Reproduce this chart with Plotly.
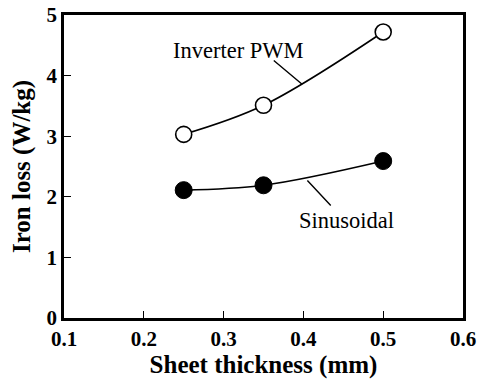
import plotly.graph_objects as go

# Sheet thickness (mm) and measured iron loss (W/kg)
thickness = [0.25, 0.35, 0.5]
loss_pwm = [3.03, 3.51, 4.72]
loss_sine = [2.11, 2.19, 2.59]

x_ticks = [0.1, 0.2, 0.3, 0.4, 0.5, 0.6]
y_ticks = [0, 1, 2, 3, 4, 5]

FONT = "Liberation Serif"

fig = go.Figure()

fig.add_trace(go.Scatter(
    x=thickness, y=loss_pwm, mode="lines+markers",
    line=dict(color="black", width=1.6, shape="spline", smoothing=1.0),
    marker=dict(symbol="circle", size=16, color="white",
                line=dict(color="black", width=1.6)),
    name="Inverter PWM",
))
fig.add_trace(go.Scatter(
    x=thickness, y=loss_sine, mode="lines+markers",
    line=dict(color="black", width=1.6, shape="spline", smoothing=1.0),
    marker=dict(symbol="circle", size=17, color="black",
                line=dict(color="black", width=1)),
    name="Sinusoidal",
))

# Curve labels with leader lines
fig.add_annotation(x=0.3187, y=4.42, text="Inverter PWM", showarrow=False,
                   font=dict(family=FONT, size=22.5, color="black"))
fig.add_annotation(x=0.398, y=3.86, ax=0.361, ay=4.27, axref="x", ayref="y",
                   xref="x", yref="y", text="", showarrow=True,
                   arrowhead=0, arrowwidth=1.4, arrowcolor="black")
fig.add_annotation(x=0.4546, y=1.61, text="Sinusoidal", showarrow=False,
                   font=dict(family=FONT, size=22.5, color="black"))
fig.add_annotation(x=0.405, y=2.27, ax=0.436, ay=1.83, axref="x", ayref="y",
                   xref="x", yref="y", text="", showarrow=True,
                   arrowhead=0, arrowwidth=1.4, arrowcolor="black")

axis_common = dict(
    showgrid=False, zeroline=False, automargin=False,
    showline=True, linecolor="black", linewidth=2.8, mirror=True,
    ticks="inside", ticklen=7, tickwidth=1.4, tickcolor="black",
    tickfont=dict(family=FONT, size=21, color="black", weight="bold"),
)

fig.update_xaxes(
    range=[0.1, 0.6], tickvals=x_ticks, ticktext=[str(v) for v in x_ticks],
    title=dict(text="Sheet thickness (mm)", standoff=2,
               font=dict(family=FONT, size=25, color="black", weight="bold")),
    **axis_common,
)
fig.update_yaxes(
    range=[0, 5], tickvals=y_ticks, ticktext=[str(v) for v in y_ticks],
    title=dict(text="Iron loss (W/kg)", standoff=9,
               font=dict(family=FONT, size=25, color="black", weight="bold")),
    **axis_common,
)

fig.update_layout(
    width=478, height=379,
    margin=dict(l=64, r=15, t=15, b=61),
    paper_bgcolor="white", plot_bgcolor="white",
    font=dict(family=FONT, color="black"),
    showlegend=False,
)

fig.write_html("out.html")
